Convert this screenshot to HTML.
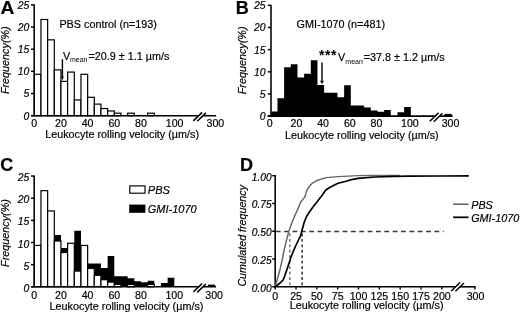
<!DOCTYPE html><html><head><meta charset="utf-8"><style>html,body{margin:0;padding:0;background:#fff;}svg{display:block;filter:grayscale(1) blur(0.3px);}text{font-family:"Liberation Sans",sans-serif;fill:#000;stroke:#000;stroke-width:0.18px;}</style></head><body>
<svg width="520" height="313" viewBox="0 0 520 313">
<rect width="520" height="313" fill="#fff"/>
<text transform="translate(0.45,13.95) scale(1.065,1)" font-size="18" font-weight="bold">A</text>
<rect x="34.30" y="74.29" width="6.667" height="41.36" fill="#fff" stroke="#000" stroke-width="1.2"/>
<rect x="40.97" y="19.49" width="6.667" height="96.16" fill="#fff" stroke="#000" stroke-width="1.2"/>
<rect x="47.63" y="39.82" width="6.667" height="75.83" fill="#fff" stroke="#000" stroke-width="1.2"/>
<rect x="54.30" y="69.87" width="6.667" height="45.78" fill="#fff" stroke="#000" stroke-width="1.2"/>
<rect x="60.97" y="81.37" width="6.667" height="34.28" fill="#fff" stroke="#000" stroke-width="1.2"/>
<rect x="67.63" y="72.08" width="6.667" height="43.57" fill="#fff" stroke="#000" stroke-width="1.2"/>
<rect x="74.30" y="99.93" width="6.667" height="15.72" fill="#fff" stroke="#000" stroke-width="1.2"/>
<rect x="80.97" y="74.29" width="6.667" height="41.36" fill="#fff" stroke="#000" stroke-width="1.2"/>
<rect x="87.63" y="97.28" width="6.667" height="18.37" fill="#fff" stroke="#000" stroke-width="1.2"/>
<rect x="94.30" y="104.13" width="6.667" height="11.52" fill="#fff" stroke="#000" stroke-width="1.2"/>
<rect x="100.97" y="108.55" width="6.667" height="7.10" fill="#fff" stroke="#000" stroke-width="1.2"/>
<rect x="107.63" y="110.98" width="6.667" height="4.67" fill="#fff" stroke="#000" stroke-width="1.2"/>
<rect x="114.30" y="113.19" width="6.667" height="2.46" fill="#fff" stroke="#000" stroke-width="1.2"/>
<rect x="127.63" y="113.19" width="6.667" height="2.46" fill="#fff" stroke="#000" stroke-width="1.2"/>
<rect x="147.63" y="113.19" width="6.667" height="2.46" fill="#fff" stroke="#000" stroke-width="1.2"/>
<line x1="34.20" y1="4.40" x2="34.20" y2="116.25" stroke="#000" stroke-width="1.55"/>
<line x1="31.00" y1="115.65" x2="34.20" y2="115.65" stroke="#000" stroke-width="1.45"/>
<text x="29.30" y="119.55" font-size="10.4" text-anchor="end" font-style="italic" font-weight="normal" >0</text>
<line x1="31.00" y1="93.50" x2="34.20" y2="93.50" stroke="#000" stroke-width="1.45"/>
<text x="29.30" y="97.40" font-size="10.4" text-anchor="end" font-style="italic" font-weight="normal" >5</text>
<line x1="31.00" y1="71.35" x2="34.20" y2="71.35" stroke="#000" stroke-width="1.45"/>
<text x="29.30" y="75.25" font-size="10.4" text-anchor="end" font-style="italic" font-weight="normal" >10</text>
<line x1="31.00" y1="49.20" x2="34.20" y2="49.20" stroke="#000" stroke-width="1.45"/>
<text x="29.30" y="53.10" font-size="10.4" text-anchor="end" font-style="italic" font-weight="normal" >15</text>
<line x1="31.00" y1="27.05" x2="34.20" y2="27.05" stroke="#000" stroke-width="1.45"/>
<text x="29.30" y="30.95" font-size="10.4" text-anchor="end" font-style="italic" font-weight="normal" >20</text>
<line x1="31.00" y1="4.90" x2="34.20" y2="4.90" stroke="#000" stroke-width="1.45"/>
<text x="29.30" y="8.80" font-size="10.4" text-anchor="end" font-style="italic" font-weight="normal" >25</text>
<line x1="31.10" y1="115.65" x2="216.10" y2="115.65" stroke="#000" stroke-width="1.55"/>
<polygon points="194.50,120.85 203.30,112.35 205.90,112.95 197.10,121.45" fill="#fff"/>
<line x1="193.30" y1="120.85" x2="202.10" y2="112.35" stroke="#000" stroke-width="1.55"/>
<line x1="197.20" y1="121.25" x2="205.90" y2="112.85" stroke="#000" stroke-width="1.55"/>
<text x="34.30" y="126.80" font-size="10.6" text-anchor="middle" font-style="normal" font-weight="normal" >0</text>
<text x="60.97" y="126.80" font-size="10.6" text-anchor="middle" font-style="normal" font-weight="normal" >20</text>
<text x="87.63" y="126.80" font-size="10.6" text-anchor="middle" font-style="normal" font-weight="normal" >40</text>
<text x="114.30" y="126.80" font-size="10.6" text-anchor="middle" font-style="normal" font-weight="normal" >60</text>
<text x="140.97" y="126.80" font-size="10.6" text-anchor="middle" font-style="normal" font-weight="normal" >80</text>
<text x="174.60" y="126.80" font-size="10.6" text-anchor="middle" font-style="normal" font-weight="normal" >100</text>
<text x="215.40" y="126.80" font-size="10.6" text-anchor="middle" font-style="normal" font-weight="normal" >300</text>
<text transform="translate(9.20,94.10) rotate(-90)" font-size="10.8" font-style="italic">Frequency(%)</text>
<text x="59.40" y="27.80" font-size="10.8" text-anchor="start" font-style="normal" font-weight="normal" >PBS control (n=193)</text>
<line x1="62.4" y1="59.2" x2="62.4" y2="78" stroke="#000" stroke-width="1.45"/>
<polygon points="60.9,76.6 63.9,76.6 62.4,80.2" fill="#000"/>
<text x="63.00" y="59.60" font-size="10.8" text-anchor="start" font-style="normal" font-weight="normal" >V</text>
<text x="70.00" y="62.30" font-size="7" text-anchor="start" font-style="normal" font-weight="normal" style="stroke-width:0">mean</text>
<text x="88.50" y="59.80" font-size="10.8" text-anchor="start" font-style="normal" font-weight="normal" >=20.9 ± 1.1 µm/s</text>
<text x="45.20" y="137.80" font-size="10.8" text-anchor="start" font-style="normal" font-weight="normal" >Leukocyte rolling velocity (µm/s)</text>
<text x="235.80" y="13.60" font-size="18" text-anchor="start" font-style="normal" font-weight="bold" >B</text>
<polygon points="270.80,116.40 270.80,111.42 277.47,111.42 277.47,98.16 284.13,98.16 284.13,67.22 290.80,67.22 290.80,64.35 297.47,64.35 297.47,77.39 304.13,77.39 304.13,73.63 310.80,73.63 310.80,60.15 317.47,60.15 317.47,85.12 324.13,85.12 324.13,92.86 330.80,92.86 330.80,92.86 337.47,92.86 337.47,97.28 344.13,97.28 344.13,85.34 350.80,85.34 350.80,105.45 357.47,105.45 357.47,105.45 364.13,105.45 364.13,107.44 370.80,107.44 370.80,110.54 377.47,110.54 377.47,111.64 384.13,111.64 384.13,110.10 390.80,110.10 390.80,116.40" fill="#000"/>
<polygon points="397.47,116.40 397.47,112.31 404.13,112.31 404.13,107.00 410.80,107.00 410.80,116.40" fill="#000"/>
<rect x="444.40" y="113.90" width="7.2" height="2.4" fill="#000"/>
<line x1="271.00" y1="4.85" x2="271.00" y2="116.70" stroke="#000" stroke-width="1.55"/>
<line x1="267.80" y1="116.10" x2="271.00" y2="116.10" stroke="#000" stroke-width="1.45"/>
<text x="265.60" y="120.00" font-size="10.4" text-anchor="end" font-style="italic" font-weight="normal" >0</text>
<line x1="267.80" y1="93.95" x2="271.00" y2="93.95" stroke="#000" stroke-width="1.45"/>
<text x="265.60" y="97.85" font-size="10.4" text-anchor="end" font-style="italic" font-weight="normal" >5</text>
<line x1="267.80" y1="71.80" x2="271.00" y2="71.80" stroke="#000" stroke-width="1.45"/>
<text x="265.60" y="75.70" font-size="10.4" text-anchor="end" font-style="italic" font-weight="normal" >10</text>
<line x1="267.80" y1="49.65" x2="271.00" y2="49.65" stroke="#000" stroke-width="1.45"/>
<text x="265.60" y="53.55" font-size="10.4" text-anchor="end" font-style="italic" font-weight="normal" >15</text>
<line x1="267.80" y1="27.50" x2="271.00" y2="27.50" stroke="#000" stroke-width="1.45"/>
<text x="265.60" y="31.40" font-size="10.4" text-anchor="end" font-style="italic" font-weight="normal" >20</text>
<line x1="267.80" y1="5.35" x2="271.00" y2="5.35" stroke="#000" stroke-width="1.45"/>
<text x="265.60" y="9.25" font-size="10.4" text-anchor="end" font-style="italic" font-weight="normal" >25</text>
<line x1="267.60" y1="116.10" x2="452.60" y2="116.10" stroke="#000" stroke-width="1.55"/>
<polygon points="431.00,121.30 439.80,112.80 442.40,113.40 433.60,121.90" fill="#fff"/>
<line x1="429.80" y1="121.30" x2="438.60" y2="112.80" stroke="#000" stroke-width="1.55"/>
<line x1="433.70" y1="121.70" x2="442.40" y2="113.30" stroke="#000" stroke-width="1.55"/>
<text x="269.80" y="126.90" font-size="10.6" text-anchor="middle" font-style="normal" font-weight="normal" >0</text>
<text x="296.47" y="126.90" font-size="10.6" text-anchor="middle" font-style="normal" font-weight="normal" >20</text>
<text x="323.13" y="126.90" font-size="10.6" text-anchor="middle" font-style="normal" font-weight="normal" >40</text>
<text x="349.80" y="126.90" font-size="10.6" text-anchor="middle" font-style="normal" font-weight="normal" >60</text>
<text x="376.47" y="126.90" font-size="10.6" text-anchor="middle" font-style="normal" font-weight="normal" >80</text>
<text x="409.90" y="126.90" font-size="10.6" text-anchor="middle" font-style="normal" font-weight="normal" >100</text>
<text x="450.50" y="126.90" font-size="10.6" text-anchor="middle" font-style="normal" font-weight="normal" >300</text>
<text transform="translate(245.90,94.30) rotate(-90)" font-size="10.8" font-style="italic">Frequency(%)</text>
<text x="296.50" y="27.50" font-size="10.8" text-anchor="start" font-style="normal" font-weight="normal" >GMI-1070 (n=481)</text>
<line x1="322.0" y1="62.6" x2="322.0" y2="82" stroke="#000" stroke-width="1.4"/>
<polygon points="320,80.8 324,80.8 322,84.2" fill="#000"/>
<text x="318.90" y="60.00" font-size="14" text-anchor="start" font-style="normal" font-weight="bold" letter-spacing="0.55" style="stroke-width:0">***</text>
<text x="338.10" y="60.80" font-size="10.8" text-anchor="start" font-style="normal" font-weight="normal" >V</text>
<text x="345.30" y="63.80" font-size="7" text-anchor="start" font-style="normal" font-weight="normal" style="stroke-width:0">mean</text>
<text x="363.80" y="61.00" font-size="10.8" text-anchor="start" font-style="normal" font-weight="normal" >=37.8 ± 1.2 µm/s</text>
<text x="284.90" y="138.80" font-size="10.8" text-anchor="start" font-style="normal" font-weight="normal" >Leukocyte rolling velocity (µm/s)</text>
<text x="0.30" y="170.80" font-size="18" text-anchor="start" font-style="normal" font-weight="bold" >C</text>
<polygon points="34.30,287.10 34.30,282.12 40.97,282.12 40.97,268.86 47.63,268.86 47.63,237.92 54.30,237.92 54.30,235.05 60.97,235.05 60.97,248.09 67.63,248.09 67.63,244.33 74.30,244.33 74.30,230.85 80.97,230.85 80.97,255.82 87.63,255.82 87.63,263.56 94.30,263.56 94.30,263.56 100.97,263.56 100.97,267.98 107.63,267.98 107.63,256.04 114.30,256.04 114.30,276.16 120.97,276.16 120.97,276.16 127.63,276.16 127.63,278.14 134.30,278.14 134.30,281.24 140.97,281.24 140.97,282.34 147.63,282.34 147.63,280.80 154.30,280.80 154.30,287.10" fill="#000"/>
<polygon points="160.97,287.10 160.97,283.01 167.63,283.01 167.63,277.70 174.30,277.70 174.30,287.10" fill="#000"/>
<rect x="207.90" y="284.60" width="7.2" height="2.4" fill="#000"/>
<rect x="34.30" y="245.44" width="6.667" height="41.36" fill="#fff" stroke="#000" stroke-width="1.2"/>
<rect x="40.97" y="190.64" width="6.667" height="96.16" fill="#fff" stroke="#000" stroke-width="1.2"/>
<rect x="47.63" y="210.97" width="6.667" height="75.83" fill="#fff" stroke="#000" stroke-width="1.2"/>
<rect x="54.30" y="241.02" width="6.667" height="45.78" fill="#fff" stroke="#000" stroke-width="1.2"/>
<rect x="60.97" y="252.52" width="6.667" height="34.28" fill="#fff" stroke="#000" stroke-width="1.2"/>
<rect x="67.63" y="243.23" width="6.667" height="43.57" fill="#fff" stroke="#000" stroke-width="1.2"/>
<rect x="74.30" y="271.08" width="6.667" height="15.72" fill="#fff" stroke="#000" stroke-width="1.2"/>
<rect x="80.97" y="245.44" width="6.667" height="41.36" fill="#fff" stroke="#000" stroke-width="1.2"/>
<rect x="87.63" y="268.43" width="6.667" height="18.37" fill="#fff" stroke="#000" stroke-width="1.2"/>
<rect x="94.30" y="275.28" width="6.667" height="11.52" fill="#fff" stroke="#000" stroke-width="1.2"/>
<rect x="100.97" y="279.70" width="6.667" height="7.10" fill="#fff" stroke="#000" stroke-width="1.2"/>
<rect x="107.63" y="282.13" width="6.667" height="4.67" fill="#fff" stroke="#000" stroke-width="1.2"/>
<rect x="114.30" y="284.34" width="6.667" height="2.46" fill="#fff" stroke="#000" stroke-width="1.2"/>
<rect x="127.63" y="284.34" width="6.667" height="2.46" fill="#fff" stroke="#000" stroke-width="1.2"/>
<rect x="147.63" y="284.34" width="6.667" height="2.46" fill="#fff" stroke="#000" stroke-width="1.2"/>
<line x1="34.20" y1="175.55" x2="34.20" y2="287.40" stroke="#000" stroke-width="1.55"/>
<line x1="31.00" y1="286.80" x2="34.20" y2="286.80" stroke="#000" stroke-width="1.45"/>
<text x="29.30" y="291.90" font-size="10.4" text-anchor="end" font-style="italic" font-weight="normal" >0</text>
<line x1="31.00" y1="264.65" x2="34.20" y2="264.65" stroke="#000" stroke-width="1.45"/>
<text x="29.30" y="269.75" font-size="10.4" text-anchor="end" font-style="italic" font-weight="normal" >5</text>
<line x1="31.00" y1="242.50" x2="34.20" y2="242.50" stroke="#000" stroke-width="1.45"/>
<text x="29.30" y="247.60" font-size="10.4" text-anchor="end" font-style="italic" font-weight="normal" >10</text>
<line x1="31.00" y1="220.35" x2="34.20" y2="220.35" stroke="#000" stroke-width="1.45"/>
<text x="29.30" y="225.45" font-size="10.4" text-anchor="end" font-style="italic" font-weight="normal" >15</text>
<line x1="31.00" y1="198.20" x2="34.20" y2="198.20" stroke="#000" stroke-width="1.45"/>
<text x="29.30" y="203.30" font-size="10.4" text-anchor="end" font-style="italic" font-weight="normal" >20</text>
<line x1="31.00" y1="176.05" x2="34.20" y2="176.05" stroke="#000" stroke-width="1.45"/>
<text x="29.30" y="181.15" font-size="10.4" text-anchor="end" font-style="italic" font-weight="normal" >25</text>
<line x1="31.10" y1="286.80" x2="216.10" y2="286.80" stroke="#000" stroke-width="1.55"/>
<polygon points="194.50,292.00 203.30,283.50 205.90,284.10 197.10,292.60" fill="#fff"/>
<line x1="193.30" y1="292.00" x2="202.10" y2="283.50" stroke="#000" stroke-width="1.55"/>
<line x1="197.20" y1="292.40" x2="205.90" y2="284.00" stroke="#000" stroke-width="1.55"/>
<text x="34.30" y="298.50" font-size="10.6" text-anchor="middle" font-style="normal" font-weight="normal" >0</text>
<text x="60.97" y="298.50" font-size="10.6" text-anchor="middle" font-style="normal" font-weight="normal" >20</text>
<text x="87.63" y="298.50" font-size="10.6" text-anchor="middle" font-style="normal" font-weight="normal" >40</text>
<text x="114.30" y="298.50" font-size="10.6" text-anchor="middle" font-style="normal" font-weight="normal" >60</text>
<text x="140.97" y="298.50" font-size="10.6" text-anchor="middle" font-style="normal" font-weight="normal" >80</text>
<text x="174.25" y="298.50" font-size="10.6" text-anchor="middle" font-style="normal" font-weight="normal" >100</text>
<text x="214.15" y="298.50" font-size="10.6" text-anchor="middle" font-style="normal" font-weight="normal" >300</text>
<text transform="translate(9.20,266.90) rotate(-90)" font-size="10.8" font-style="italic">Frequency(%)</text>
<text x="49.60" y="309.60" font-size="10.8" text-anchor="start" font-style="normal" font-weight="normal" >Leukocyte rolling velocity (µm/s)</text>
<rect x="129.8" y="185.9" width="15.2" height="7.3" fill="#fff" stroke="#000" stroke-width="1.15"/>
<rect x="129.2" y="204.6" width="16.2" height="8.2" fill="#000"/>
<text x="147.80" y="193.90" font-size="11" text-anchor="start" font-style="italic" font-weight="normal" >PBS</text>
<text x="147.80" y="213.10" font-size="11" text-anchor="start" font-style="italic" font-weight="normal" >GMI-1070</text>
<text x="240.10" y="171.00" font-size="18" text-anchor="start" font-style="normal" font-weight="bold" >D</text>
<line x1="275.20" y1="175.10" x2="275.20" y2="287.40" stroke="#000" stroke-width="1.55"/>
<line x1="272.20" y1="286.80" x2="275.20" y2="286.80" stroke="#000" stroke-width="1.45"/>
<text x="271.60" y="291.60" font-size="10.2" text-anchor="end" font-style="italic" font-weight="normal" >0.00</text>
<line x1="272.20" y1="259.02" x2="275.20" y2="259.02" stroke="#000" stroke-width="1.45"/>
<text x="271.60" y="263.82" font-size="10.2" text-anchor="end" font-style="italic" font-weight="normal" >0.25</text>
<line x1="272.20" y1="231.25" x2="275.20" y2="231.25" stroke="#000" stroke-width="1.45"/>
<text x="271.60" y="236.05" font-size="10.2" text-anchor="end" font-style="italic" font-weight="normal" >0.50</text>
<line x1="272.20" y1="203.47" x2="275.20" y2="203.47" stroke="#000" stroke-width="1.45"/>
<text x="271.60" y="208.28" font-size="10.2" text-anchor="end" font-style="italic" font-weight="normal" >0.75</text>
<line x1="272.20" y1="175.70" x2="275.20" y2="175.70" stroke="#000" stroke-width="1.45"/>
<text x="271.60" y="180.50" font-size="10.2" text-anchor="end" font-style="italic" font-weight="normal" >1.00</text>
<line x1="274.60" y1="286.80" x2="455.6" y2="286.80" stroke="#000" stroke-width="1.55"/>
<line x1="459.6" y1="286.80" x2="475.5" y2="286.80" stroke="#000" stroke-width="1.55"/>
<line x1="275.20" y1="286.80" x2="275.20" y2="289.60" stroke="#000" stroke-width="1.4"/>
<text x="275.20" y="299.60" font-size="10.6" text-anchor="middle" font-style="normal" font-weight="normal" >0</text>
<line x1="296.03" y1="286.80" x2="296.03" y2="289.60" stroke="#000" stroke-width="1.4"/>
<text x="296.03" y="299.60" font-size="10.6" text-anchor="middle" font-style="normal" font-weight="normal" >25</text>
<line x1="316.87" y1="286.80" x2="316.87" y2="289.60" stroke="#000" stroke-width="1.4"/>
<text x="316.87" y="299.60" font-size="10.6" text-anchor="middle" font-style="normal" font-weight="normal" >50</text>
<line x1="337.70" y1="286.80" x2="337.70" y2="289.60" stroke="#000" stroke-width="1.4"/>
<text x="337.70" y="299.60" font-size="10.6" text-anchor="middle" font-style="normal" font-weight="normal" >75</text>
<line x1="358.53" y1="286.80" x2="358.53" y2="289.60" stroke="#000" stroke-width="1.4"/>
<text x="358.53" y="299.60" font-size="10.6" text-anchor="middle" font-style="normal" font-weight="normal" >100</text>
<line x1="379.37" y1="286.80" x2="379.37" y2="289.60" stroke="#000" stroke-width="1.4"/>
<text x="379.37" y="299.60" font-size="10.6" text-anchor="middle" font-style="normal" font-weight="normal" >125</text>
<line x1="400.20" y1="286.80" x2="400.20" y2="289.60" stroke="#000" stroke-width="1.4"/>
<text x="400.20" y="299.60" font-size="10.6" text-anchor="middle" font-style="normal" font-weight="normal" >150</text>
<line x1="421.03" y1="286.80" x2="421.03" y2="289.60" stroke="#000" stroke-width="1.4"/>
<text x="421.03" y="299.60" font-size="10.6" text-anchor="middle" font-style="normal" font-weight="normal" >175</text>
<line x1="441.87" y1="286.80" x2="441.87" y2="289.60" stroke="#000" stroke-width="1.4"/>
<text x="441.87" y="299.60" font-size="10.6" text-anchor="middle" font-style="normal" font-weight="normal" >200</text>
<line x1="474.9" y1="286.80" x2="474.9" y2="289.60" stroke="#000" stroke-width="1.4"/>
<text x="475.50" y="299.60" font-size="10.6" text-anchor="middle" font-style="normal" font-weight="normal" >300</text>
<line x1="451.3" y1="291" x2="460" y2="282.5" stroke="#000" stroke-width="1.55"/>
<line x1="455.4" y1="291.3" x2="464" y2="283" stroke="#000" stroke-width="1.55"/>
<text transform="translate(246.0,286.6) rotate(-90)" font-size="10.7" font-style="italic">Cumulated frequency</text>
<text x="289.70" y="309.40" font-size="10.8" text-anchor="start" font-style="normal" font-weight="normal" >Leukocyte rolling velocity (µm/s)</text>
<line x1="275.20" y1="231.5" x2="443.7" y2="231.5" stroke="#3a3a3a" stroke-width="1.5" stroke-dasharray="4.8 3.55" stroke-dashoffset="-0.6"/>
<line x1="289.8" y1="231.5" x2="289.8" y2="286.80" stroke="#6a6a6a" stroke-width="1.4" stroke-dasharray="2.8 2.65" stroke-dashoffset="3.45"/>
<line x1="302.15" y1="231.5" x2="302.15" y2="286.80" stroke="#222" stroke-width="1.4" stroke-dasharray="2.8 2.65" stroke-dashoffset="3.45"/>
<polyline points="275.20,286.30 277.10,280.00 279.90,270.00 282.20,260.00 284.10,250.00 286.40,240.50 288.80,231.50 292.10,222.00 295.30,214.60 298.30,208.00 300.70,202.00 303.50,198.60 305.00,196.70 306.40,191.40 308.80,187.10 312.20,183.30 317.00,180.40 321.80,179.00 326.00,177.60 338.00,176.60 358.00,175.60 373.00,175.50 400.00,175.50" fill="none" stroke="#666" stroke-width="1.45" stroke-linejoin="round"/>
<polyline points="275.30,286.80 276.50,285.75 279.80,283.30 283.10,280.00 284.80,275.80 288.10,265.90 291.40,255.90 295.60,246.00 298.50,240.00 300.50,236.00 301.70,231.50 303.20,226.00 304.30,222.00 306.30,217.00 309.20,212.30 313.00,207.00 316.90,202.00 321.40,196.20 325.60,190.20 330.00,187.20 338.00,183.20 346.00,181.20 351.50,179.60 358.00,178.40 375.00,177.00 393.80,176.30 410.00,176.10 440.00,176.00 468.80,175.80" fill="none" stroke="#000" stroke-width="1.7" stroke-linejoin="round"/>
<line x1="453.1" y1="204.2" x2="468.5" y2="204.2" stroke="#666" stroke-width="1.6"/>
<line x1="453.1" y1="217.3" x2="468.5" y2="217.3" stroke="#000" stroke-width="1.7"/>
<text x="471.20" y="208.60" font-size="10.8" text-anchor="start" font-style="italic" font-weight="normal" >PBS</text>
<text x="471.20" y="221.60" font-size="10.8" text-anchor="start" font-style="italic" font-weight="normal" >GMI-1070</text>
</svg></body></html>
